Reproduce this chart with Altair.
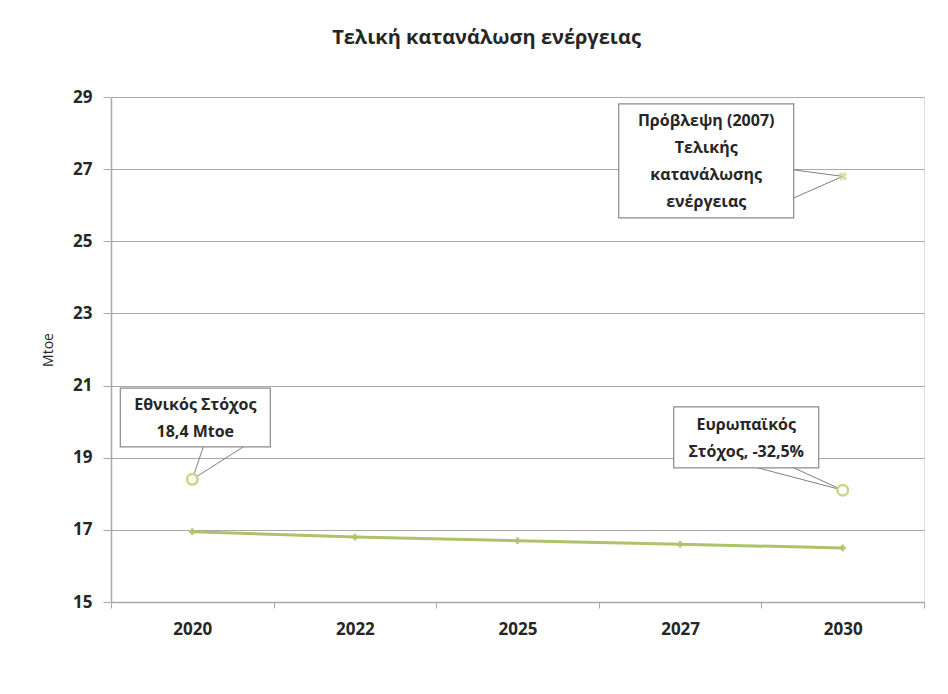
import altair as alt
import pandas as pd

# ---- data ----
years = ["2020", "2022", "2025", "2027", "2030"]
consumption = [16.95, 16.8, 16.7, 16.6, 16.5]

target_years = ["2020", "2030"]
target_values = [18.4, 18.1]

forecast_years = ["2030"]
forecast_values = [26.8]

y_ticks = [15, 17, 19, 21, 23, 25, 27, 29]

ann_years = ["2020", "2030", "2030"]
ann_values = [18.4, 26.8, 18.1]
ann_texts = [
    "Εθνικός Στόχος\n18,4 Mtoe",
    "Πρόβλεψη (2007)\nΤελικής\nκατανάλωσης\nενέργειας",
    "Ευρωπαϊκός\nΣτόχος, -32,5%",
]
ann_box_top = [20.93, 28.81, 20.41]
ann_box_bottom = [19.30, 25.65, 18.72]
# leader end points (value on y axis) on the box edge
ann_lead_y = [[19.30, 19.30], [26.98, 26.20], [18.72, 18.72]]

# ---- layout / style of callouts (pixels) ----
box_dx = [3, -136.5, -96.5]
box_w = [150, 175, 145]
lead_dx = [[11, 51], [-49, -49], [-85, -49]]
LINE_H = 27

FONT = "Open Sans"
LINE_COLOR = "#adc26c"
MARK_COLOR = "#c6d785"
GRID = "#a9a9a9"
TXT = "#262626"

line_df = pd.DataFrame({"year": years, "value": consumption})
target_df = pd.DataFrame({"year": target_years, "value": target_values})
forecast_df = pd.DataFrame({"year": forecast_years, "value": forecast_values})

x_enc = alt.X(
    "year:N",
    sort=years,
    scale=alt.Scale(type="band", domain=years, paddingInner=0, paddingOuter=0),
    axis=alt.Axis(
        title=None,
        tickBand="extent",
        labelAngle=0,
        labelFont=FONT,
        labelFontWeight="bold",
        labelFontSize=17,
        labelColor=TXT,
        labelPadding=13,
        tickSize=6,
        tickColor=GRID,
        domainColor=GRID,
        domainWidth=1.5,
        grid=False,
    ),
)
y_scale = alt.Scale(domain=[15, 29], nice=False, zero=False)
y_enc = alt.Y(
    "value:Q",
    scale=y_scale,
    axis=alt.Axis(
        title="Mtoe",
        values=y_ticks,
        titleFont=FONT,
        titleFontSize=14,
        titleFontWeight="normal",
        titleColor=TXT,
        titlePadding=17,
        labelFont=FONT,
        labelFontWeight="bold",
        labelFontSize=17,
        labelColor=TXT,
        labelPadding=11,
        tickSize=8,
        tickColor=GRID,
        domainColor=GRID,
        domainWidth=1.5,
        gridColor=GRID,
        gridWidth=1,
    ),
)

base_line = alt.Chart(line_df).mark_line(color=LINE_COLOR, strokeWidth=3).encode(x=x_enc, y=y_enc)
line_pts = alt.Chart(line_df).mark_point(
    shape="cross", size=45, filled=True, color=LINE_COLOR, opacity=0.9
).encode(x="year:N", y="value:Q")

targets = alt.Chart(target_df).mark_point(
    shape="circle", size=110, filled=False, stroke=MARK_COLOR, strokeWidth=2.5, fill="white", fillOpacity=1
).encode(x="year:N", y="value:Q")

forecast = alt.Chart(forecast_df).mark_point(
    shape="cross", angle=45, size=80, filled=True, color=MARK_COLOR
).encode(x="year:N", y="value:Q")

layers = [base_line, line_pts]

for i in range(len(ann_years)):
    # leader lines
    for j in range(2):
        d = pd.DataFrame({
            "year": [ann_years[i]], "value": [ann_values[i]], "end": [ann_lead_y[i][j]],
        })
        layers.append(
            alt.Chart(d).mark_rule(color="#7f7f7f", strokeWidth=1, x2Offset=lead_dx[i][j]).encode(
                x="year:N", x2="year:N", y="value:Q", y2="end:Q"
            )
        )
    n_lines = ann_texts[i].count("\n") + 1
    bd = pd.DataFrame({
        "year": [ann_years[i]], "top": [ann_box_top[i]], "bottom": [ann_box_bottom[i]],
        "mid": [(ann_box_top[i] + ann_box_bottom[i]) / 2], "label": [ann_texts[i]],
    })
    layers.append(
        alt.Chart(bd).mark_bar(
            width=box_w[i], xOffset=box_dx[i], fill="white", stroke="#8a8a8a", strokeWidth=1.2
        ).encode(x="year:N", y="top:Q", y2="bottom:Q")
    )
    layers.append(
        alt.Chart(bd).mark_text(
            dx=box_dx[i], dy=-(n_lines - 1) * LINE_H / 2 + 1, lineBreak="\n", lineHeight=LINE_H,
            font=FONT, fontSize=16, fontWeight="bold", color=TXT, align="center", baseline="middle",
        ).encode(x="year:N", y="mid:Q", text="label:N")
    )

layers += [targets, forecast]

chart = alt.layer(*layers).properties(
    width=813,
    height=505,
    title=alt.TitleParams(
        "Τελική κατανάλωση ενέργειας",
        font=FONT, fontSize=20, fontWeight="bold", color=TXT,
        anchor="middle", dx=-31, offset=40,
    ),
    autosize=alt.AutoSizeParams(type="none"),
    padding={"left": 111, "top": 97, "right": 24, "bottom": 92},
).configure_view(stroke=None).configure(background="white")

chart.save("out.html", embed_options={"renderer": "svg", "actions": False})
